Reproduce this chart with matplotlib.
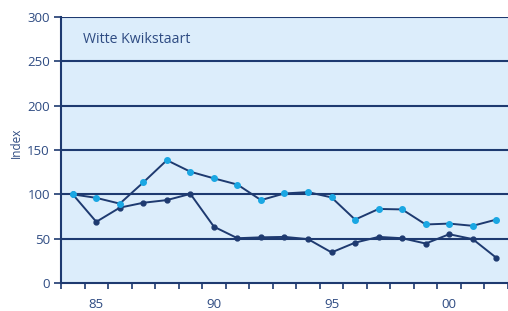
import matplotlib
matplotlib.use("Agg")
import matplotlib.pyplot as plt
import numpy as np

years = list(range(1984, 2003))
year_labels = ["85", "90", "95", "00"]
label_years = [1985, 1990, 1995, 2000]
series_dark = [100, 69, 85, 90.5, 93.5, 100.5, 63.5, 50.5, 51.5, 52, 49.5, 34.5, 45.5, 52, 50.5, 44.5, 55, 49.5, 28.5]
series_light = [100, 96, 89.5, 113.5, 138.5, 125.5, 118, 111, 93.5, 101, 102.5, 96.5, 71.5, 83.5, 83, 66, 67, 64.5, 71.5]
title = "Witte Kwikstaart"
ylabel = "Index"

navy = "#1E3A70"
text_c = "#2E4B82"
light = "#1AA7E3"
bg = "#DCEDFB"

plt.rcParams['font.family'] = ['Open Sans', 'DejaVu Sans']

fig = plt.figure(figsize=(5.08, 3.11), dpi=100)
ax = fig.add_axes([61/508, 1-283/311, 447/508, 266/311])
ax.set_facecolor(bg)

x = np.arange(len(years))
ax.plot(x, series_dark, color=navy, lw=1.4, marker='o', ms=3.5, mfc=navy, mec=navy, zorder=3)
ax.plot(x, series_light, color=navy, lw=1.4, marker='o', ms=4.0, mfc=light, mec=light, zorder=4)

ax.set_xlim(-0.5, len(years)-0.5)
ax.set_ylim(0, 300)
ax.set_yticks(range(0, 301, 50))
for v in range(50, 301, 50):
    ax.axhline(v, color=navy, lw=1.5, zorder=2)

ax.set_xticks(np.arange(-0.5, len(years)+0.5, 1), minor=False)
ax.set_xticklabels([])
ax.set_xticks([years.index(y) for y in label_years], minor=True)
ax.set_xticklabels(year_labels, minor=True)
ax.tick_params(axis='x', which='major', length=4, width=1.2, color=navy, direction='out')
ax.tick_params(axis='x', which='minor', length=0, pad=11, labelsize=9.5, labelcolor=text_c)
ax.tick_params(axis='y', length=5, width=1.2, color=navy, direction='out', labelsize=9.5, labelcolor=text_c, pad=3)

for s in ['top', 'right']:
    ax.spines[s].set_visible(False)
for s in ['left', 'bottom']:
    ax.spines[s].set_color(navy)
    ax.spines[s].set_linewidth(1.5)

fig.text(16/508, 1-143/311, ylabel, rotation=90, ha='center', va='center', color=text_c, fontsize=8.5)
ax.text(0.049, 0.917, title, transform=ax.transAxes, color=text_c, fontsize=10.2, va='center', ha='left')

fig.savefig("out.png", dpi=100)
